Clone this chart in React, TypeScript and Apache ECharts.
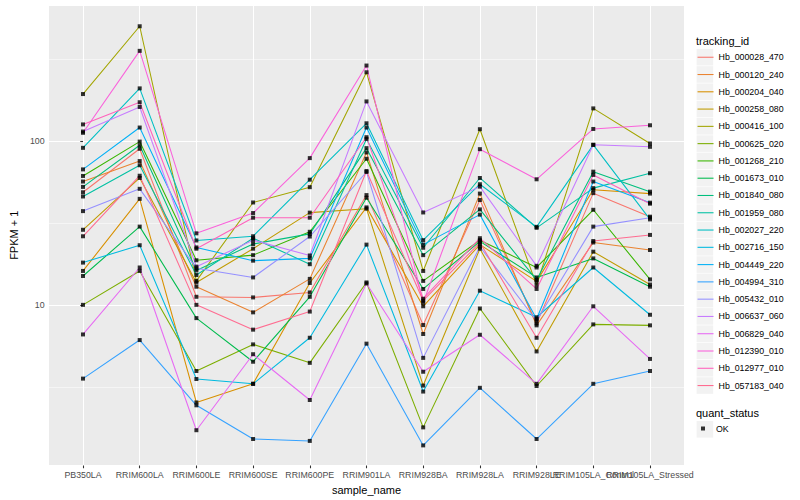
import React, { useEffect, useRef } from "react";
import * as echarts from "echarts";

const sampleNames = [
  "PB350LA", "RRIM600LA", "RRIM600LE", "RRIM600SE", "RRIM600PE", "RRIM901LA",
  "RRIM928BA", "RRIM928LA", "RRIM928LE", "RRIM105LA_Control", "RRIM105LA_Stressed",
];

const trackingIds = [
  "Hb_000028_470", "Hb_000120_240", "Hb_000204_040", "Hb_000258_080", "Hb_000416_100",
  "Hb_000625_020", "Hb_001268_210", "Hb_001673_010", "Hb_001840_080", "Hb_001959_080",
  "Hb_002027_220", "Hb_002716_150", "Hb_004449_220", "Hb_004994_310", "Hb_005432_010",
  "Hb_006637_060", "Hb_006829_040", "Hb_012390_010", "Hb_012977_010", "Hb_057183_040",
];

const trackingColors = [
  "#F8766D", "#EA8331", "#D89000", "#C09B00", "#A3A500", "#7CAE00", "#39B600", "#00BB4E",
  "#00BF7D", "#00C1A3", "#00BFC4", "#00BAE0", "#00B0F6", "#35A2FF", "#9590FF", "#C77CFF",
  "#E76BF3", "#FA62DB", "#FF62BC", "#FF6C91",
];

// FPKM + 1 per sample (order of sampleNames)
const hb000028470 = [48.6, 89.5, 11.2, 11.1, 11.9, 46.7, 7.53, 43.6, 7.7, 48, 34.5];
const hb000120240 = [56.5, 75.3, 12.9, 9.0, 14.4, 85, 6.64, 47.7, 7.5, 24.0, 21.6];
const hb000204040 = [16.1, 44.3, 2.54, 3.3, 13.6, 39.3, 9.8, 23.3, 13.9, 50.3, 47.7];
const hb000258080 = [28.7, 59.4, 13.7, 22.0, 36.5, 38.6, 3.22, 22.0, 5.2, 21.1, 13.3];
const hb000416100 = [193, 500, 14.0, 42.1, 52.2, 262, 16.1, 117.8, 13.2, 157.8, 96.4];
const hb000625020 = [10, 16.1, 3.95, 5.74, 4.43, 13.7, 1.79, 9.5, 3.2, 7.6, 7.5];
const hb001268210 = [61.1, 99, 18.7, 20.1, 27.9, 77.8, 14.0, 24.8, 16.9, 38.0, 14.3];
const hb001673010 = [15, 30, 8.3, 4.5, 11.2, 45, 12.5, 24.4, 14.7, 19.2, 12.9];
const hb001840080 = [52.4, 94, 16.2, 23.5, 27.1, 90.3, 20.1, 38.2, 14.2, 64.9, 49];
const hb001959080 = [45.8, 71, 15.2, 25.5, 17.7, 102.8, 22.3, 59.4, 29.5, 51.5, 63.5];
const hb002027220 = [90.7, 209, 24.7, 26.2, 58, 128, 24.8, 54.4, 29.9, 94.6, 33.2];
const hb002716150 = [18.1, 23.1, 3.53, 3.3, 6.3, 23.3, 2.96, 12.2, 8.4, 16.9, 8.7];
const hb004449220 = [67, 120.6, 22.4, 18.6, 19.2, 120.6, 23.3, 35.5, 8.2, 56.5, 42];
const hb004994310 = [3.55, 6.1, 2.44, 1.52, 1.48, 5.8, 1.39, 3.12, 1.52, 3.3, 3.95];
const hb005432010 = [37.3, 51, 16.7, 14.7, 26.1, 64.6, 4.75, 22.6, 8.0, 30.0, 34];
const hb006637060 = [114, 161, 17.1, 24.8, 20.0, 174, 36.6, 52.6, 17.3, 94.6, 92];
const hb006829040 = [6.6, 16.9, 1.72, 5.0, 2.63, 13.5, 3.91, 6.57, 3.3, 9.8, 4.68];
const hb012390010 = [112, 354, 27.3, 36.3, 78.5, 288, 10.3, 89, 58.3, 118.2, 124.5];
const hb012977010 = [126, 172, 22.0, 34.0, 34.0, 105.3, 10.9, 25.5, 12.5, 62, 41.4];
const hb057183040 = [26.2, 61.3, 10.0, 7.06, 9.1, 65.5, 10.6, 24.0, 6.3, 24.5, 26.7];

const seriesValues = [
  hb000028470, hb000120240, hb000204040, hb000258080, hb000416100, hb000625020,
  hb001268210, hb001673010, hb001840080, hb001959080, hb002027220, hb002716150,
  hb004449220, hb004994310, hb005432010, hb006637060, hb006829040, hb012390010,
  hb012977010, hb057183040,
];

const yMajorTicks = [10, 100];
const yMinorBreaks = [3.1623, 31.623, 316.23];
const yRange = [1.048, 673.9];
const xRange = [-0.6, 10.6];
const quantStatus = ["OK"];

const FONT = "'Liberation Sans', Arial, Helvetica, sans-serif";
const KEY_STEP = 17.28;

export default function App() {
  const ref = useRef<HTMLDivElement>(null);

  useEffect(() => {
    if (!ref.current) return;
    const chart = echarts.init(ref.current, undefined, { renderer: "svg" });

    const lineSeries = trackingIds.map((id, k) => ({
      name: id,
      type: "line",
      data: seriesValues[k].map((v, i) => [i, v]),
      symbol: "none",
      showSymbol: false,
      lineStyle: { color: trackingColors[k], width: 1.07 },
      itemStyle: { color: trackingColors[k] },
      z: 2,
      silent: true,
    }));

    const pointData: number[][] = [];
    seriesValues.forEach((arr) => arr.forEach((v, i) => pointData.push([i, v])));

    const keyRects = [];
    for (let i = 0; i < trackingIds.length; i++) {
      keyRects.push({
        type: "rect",
        shape: { x: 696.6, y: 48.9 + i * KEY_STEP, width: 16.6, height: 16.6 },
        style: { fill: "#F2F2F2" },
        z: 0,
      });
    }
    keyRects.push({
      type: "rect",
      shape: { x: 696.6, y: 421.0, width: 16.6, height: 16.6 },
      style: { fill: "#F2F2F2" },
      z: 0,
    });

    const allIdx = sampleNames.map((_, i) => i);
    // Labels split over two overlaid axes so that overlapping neighbours are both kept
    const labelIdxA = allIdx.filter((i) => i !== 9);
    const labelIdxB = [9];
    const fmt = (v: number) => sampleNames[Math.round(v)] ?? "";
    const labelBase = {
      formatter: fmt,
      fontSize: 8.8,
      color: "#4D4D4D",
      margin: 4.6,
      fontFamily: FONT,
      hideOverlap: false,
      showMinLabel: true,
      showMaxLabel: true,
    };

    chart.setOption({
      animation: false,
      backgroundColor: "#FFFFFF",
      textStyle: { fontFamily: FONT },
      title: [
        {
          text: "tracking_id",
          left: 696,
          top: 35,
          padding: 0,
          textStyle: { fontSize: 11, fontWeight: "normal", color: "#000", fontFamily: FONT },
        },
        {
          text: "quant_status",
          left: 696,
          top: 407.7,
          padding: 0,
          textStyle: { fontSize: 11, fontWeight: "normal", color: "#000", fontFamily: FONT },
        },
      ],
      graphic: keyRects,
      legend: [
        {
          data: trackingIds,
          orient: "vertical",
          left: 697,
          top: 48.6,
          padding: 0,
          itemWidth: 16,
          itemHeight: 16,
          itemGap: 0,
          itemStyle: { opacity: 0 },
          lineStyle: { width: 1.07 },
          textStyle: { fontSize: 8.8, lineHeight: KEY_STEP, color: "#000", fontFamily: FONT },
          selectedMode: false,
        },
        {
          data: quantStatus,
          orient: "vertical",
          left: 701,
          top: 424,
          padding: 0,
          icon: "rect",
          itemWidth: 4,
          itemHeight: 4,
          textStyle: { fontSize: 8.8, color: "#000", fontFamily: FONT, padding: [0, 0, 0, 6] },
          selectedMode: false,
        },
      ],
      grid: {
        left: 40,
        right: 116,
        top: 5,
        bottom: 31.7,
        show: true,
        backgroundColor: "#EBEBEB",
        borderWidth: 0,
        containLabel: false,
      },
      xAxis: [
        {
          type: "value",
          min: xRange[0],
          max: xRange[1],
          position: "bottom",
          name: "sample_name",
          nameLocation: "middle",
          nameGap: 14.5,
          nameTextStyle: { fontSize: 11, color: "#000", fontFamily: FONT },
          axisLine: { show: false },
          axisTick: {
            show: true,
            length: 2.75,
            lineStyle: { color: "#333333", width: 1.07 },
            customValues: allIdx,
          },
          axisLabel: { ...labelBase, customValues: labelIdxA },
          splitLine: { show: true, lineStyle: { color: "#FFFFFF", width: 1.07 } },
        },
        {
          type: "value",
          min: xRange[0],
          max: xRange[1],
          position: "bottom",
          offset: 0,
          axisLine: { show: false },
          axisTick: { show: false, customValues: labelIdxB },
          axisLabel: { ...labelBase, customValues: labelIdxB },
          splitLine: { show: false },
        },
      ],
      yAxis: {
        type: "log",
        logBase: 10,
        min: yRange[0],
        max: yRange[1],
        name: "FPKM + 1",
        nameLocation: "middle",
        nameGap: 22,
        nameTextStyle: { fontSize: 11, color: "#000", fontFamily: FONT },
        axisLine: { show: false },
        axisTick: { show: true, length: 2.75, lineStyle: { color: "#333333", width: 1.07 } },
        axisLabel: {
          fontSize: 8.8,
          color: "#4D4D4D",
          margin: 4.4,
          fontFamily: FONT,
          showMinLabel: false,
          showMaxLabel: false,
          formatter: (v: number) => (yMajorTicks.some((t) => Math.abs(t - v) < 1e-6) ? String(v) : ""),
        },
        splitLine: { show: true, lineStyle: { color: "#FFFFFF", width: 1.07 } },
      },
      series: [
        {
          name: "__minor_grid__",
          type: "line",
          data: [],
          z: 1,
          silent: true,
          markLine: {
            silent: true,
            symbol: "none",
            z: 1,
            animation: false,
            label: { show: false },
            lineStyle: { color: "#FFFFFF", width: 0.53, type: "solid" },
            data: yMinorBreaks.map((b) => ({ yAxis: b })),
          },
        },
        ...lineSeries,
        {
          name: "OK",
          type: "scatter",
          data: pointData,
          symbol: "rect",
          symbolSize: 4,
          itemStyle: { color: "#000000" },
          z: 3,
          silent: true,
        },
      ],
    });

    return () => chart.dispose();
  }, []);

  return (
    <div
      ref={ref}
      style={{ position: "absolute", left: 0, top: 0, width: 800, height: 500 }}
    />
  );
}
